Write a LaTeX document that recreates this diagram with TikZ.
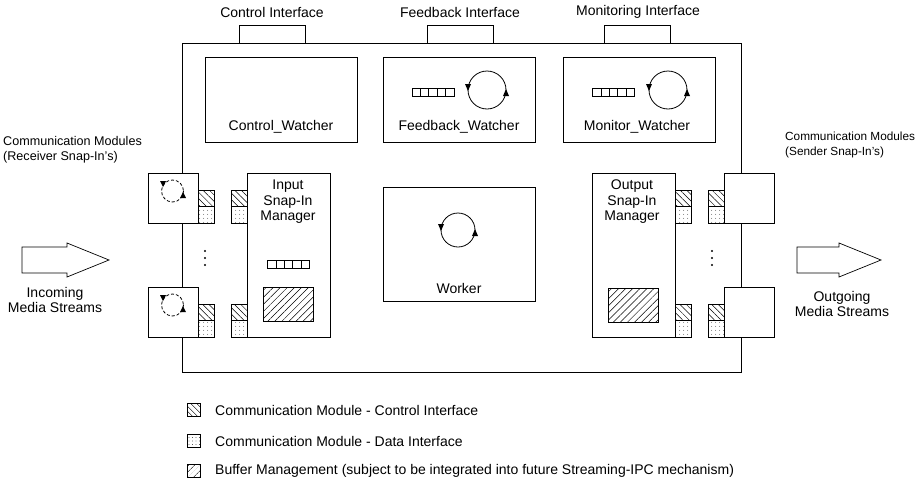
\documentclass[tikz,border=0pt]{standalone}
\usepackage{fontspec}
\setmainfont{Liberation Sans}
\usetikzlibrary{patterns.meta}
\begin{document}
\begin{tikzpicture}[x=1pt,y=-1pt,
  bx/.style={draw,line width=0.8pt,fill=white,inner sep=0pt,outer sep=0pt,rectangle},
  ctrlif/.style={draw,line width=0.7pt,inner sep=0pt,outer sep=0pt,minimum width=16pt,minimum height=16.5pt,
     pattern={Lines[angle=-45,distance=4.5pt,line width=0.5pt]}},
  dataif/.style={draw,line width=0.7pt,inner sep=0pt,outer sep=0pt,minimum width=16pt,minimum height=16.5pt,
     pattern={Dots[distance=4pt,radius=0.45pt]}},
  bufm/.style={draw,line width=0.7pt,inner sep=0pt,outer sep=0pt,minimum width=50pt,minimum height=34pt,
     pattern={Lines[angle=45,distance=5pt,line width=0.5pt]}},
  lbl/.style={font=\fontsize{14}{15.5}\selectfont,inner sep=0pt,align=center},
  slbl/.style={font=\fontsize{12.6}{15}\selectfont,inner sep=0pt,align=left},
  pics/queue/.style={code={
     \draw[line width=0.7pt] (-21,-4) rectangle (21,4);
     \foreach \i in {1,...,4} \draw[line width=0.7pt] ({-21+8.4*\i},-4) -- ++(0,8);}},
  pics/cyc/.style={code={
     \draw[line width=0.8pt] (0,0) circle (#1);
     \fill (-#1,1) -- ({-#1-3},-6) -- ({-#1+3},-6) -- cycle;
     \fill (#1,-1) -- ({#1-3},6) -- ({#1+3},6) -- cycle;}},
  pics/dcyc/.style={code={
     \draw[line width=0.8pt,dash pattern=on 3pt off 2pt] (0,0) circle (11);
     \fill (-9.5,-4) -- (-12.5,-10) -- (-6.5,-10) -- cycle;
     \fill (10.5,1) -- (7.5,7) -- (13.5,7) -- cycle;}}
]
\useasboundingbox (0,0) rectangle (918,490);

% main component box
\node[bx,minimum width=559pt,minimum height=329pt] (main) at (461.5,207.5) {};

% interface tabs
\node[bx,minimum width=66pt,minimum height=18pt] (tabC) at (272,34) {};
\node[bx,minimum width=66pt,minimum height=18pt] (tabF) at (460,34) {};
\node[bx,minimum width=66pt,minimum height=18pt] (tabM) at (637,34) {};
\node[lbl] (tabCl) at (272,12) {Control Interface};
\node[lbl] (tabFl) at (460,12) {Feedback Interface};
\node[lbl] (tabMl) at (638,12) {Monitoring Interface};

% watchers
\node[bx,minimum width=152pt,minimum height=85pt] (cw) at (281,99.5) {};
\node[bx,minimum width=152pt,minimum height=85pt] (fw) at (459,99.5) {};
\node[bx,minimum width=152pt,minimum height=85pt] (mw) at (639,99.5) {};
\node[lbl] (cwl) at (281,127) {Control\_Watcher};
\node[lbl] (fwl) at (459,127) {Feedback\_Watcher};
\node[lbl] (mwl) at (637,127) {Monitor\_Watcher};
\pic at (433,92) {queue};
\pic at (487,90) {cyc=19};
\pic at (613.5,92) {queue};
\pic at (668,90) {cyc=19};

% worker
\node[bx,minimum width=152pt,minimum height=114pt] (worker) at (459,244) {};
\pic at (458,230) {cyc=17};
\node[lbl] (workerl) at (459,288) {Worker};

% snap-in managers
\node[bx,minimum width=83pt,minimum height=164pt] (im) at (288.5,255) {};
\node[lbl,anchor=north] (iml) at (288,180) {Input\\Snap-In\\Manager};
\pic at (288.5,264) {queue};
\node[bufm] (ibuf) at (288.5,304) {};

\node[bx,minimum width=83pt,minimum height=164pt] (om) at (633.5,255) {};
\node[lbl,anchor=north] (oml) at (632,180) {Output\\Snap-In\\Manager};
\node[bufm] (obuf) at (633.5,305) {};

% receiver snap-ins
\node[bx,minimum width=50pt,minimum height=50pt] (rm1) at (173,198) {};
\node[bx,minimum width=50pt,minimum height=50pt] (rm2) at (173,312) {};
\pic at (172.5,191) {dcyc};
\pic at (172.5,305) {dcyc};
% sender snap-ins
\node[bx,minimum width=50pt,minimum height=50pt] (sm1) at (749,198) {};
\node[bx,minimum width=50pt,minimum height=50pt] (sm2) at (749,312) {};

% interface squares
\foreach \xx/\nm in {206/a,239/b,683/c,716/d}{
  \node[ctrlif] (c1\nm) at (\xx,198.25) {};
  \node[dataif] (d1\nm) at (\xx,214.75) {};
  \node[ctrlif] (c2\nm) at (\xx,312.25) {};
  \node[dataif] (d2\nm) at (\xx,328.75) {};
}

% vertical ellipses
\foreach \xx in {205,712}{
  \foreach \yy in {251,258,265} \fill (\xx,\yy) circle (1.1);
}

% side labels
\node[slbl,anchor=west] (recvl) at (3,149.5) {Communication Modules\\(Receiver Snap-In’s)};
\node[slbl,anchor=west,font=\fontsize{11.8}{15}\selectfont] (sendl) at (785,144.5) {Communication Modules\\(Sender Snap-In’s)};

% media stream arrows
\draw[line width=0.7pt] (22,247) -- (67,247) -- (67,243) -- (109,260) -- (67,277) -- (67,273) -- (22,273) -- cycle;
\node[lbl] (inl) at (55,300) {Incoming\\Media Streams};
\draw[line width=0.7pt] (797,247) -- (839,247) -- (839,243) -- (881,260) -- (839,277) -- (839,273) -- (797,273) -- cycle;
\node[lbl] (outl) at (842,304) {Outgoing\\Media Streams};

% legend
\node[draw,line width=0.7pt,minimum width=13pt,minimum height=13pt,inner sep=0pt,
  pattern={Lines[angle=-45,distance=4pt,line width=0.5pt]}] (lg1) at (193.5,410) {};
\node[draw,line width=0.7pt,minimum width=13pt,minimum height=13pt,inner sep=0pt,
  pattern={Dots[distance=3.5pt,radius=0.45pt]}] (lg2) at (193.5,441) {};
\node[draw,line width=0.7pt,minimum width=13pt,minimum height=13pt,inner sep=0pt,
  pattern={Lines[angle=45,distance=4pt,line width=0.5pt]}] (lg3) at (193.5,471) {};
\node[lbl,anchor=west] (lg1t) at (215,410) {Communication Module - Control Interface};
\node[lbl,anchor=west] (lg2t) at (215,441) {Communication Module - Data Interface};
\node[lbl,anchor=west] (lg3t) at (215,471) {Buffer Management (subject to be integrated into future Streaming-IPC mechanism)};
\end{tikzpicture}
\end{document}
